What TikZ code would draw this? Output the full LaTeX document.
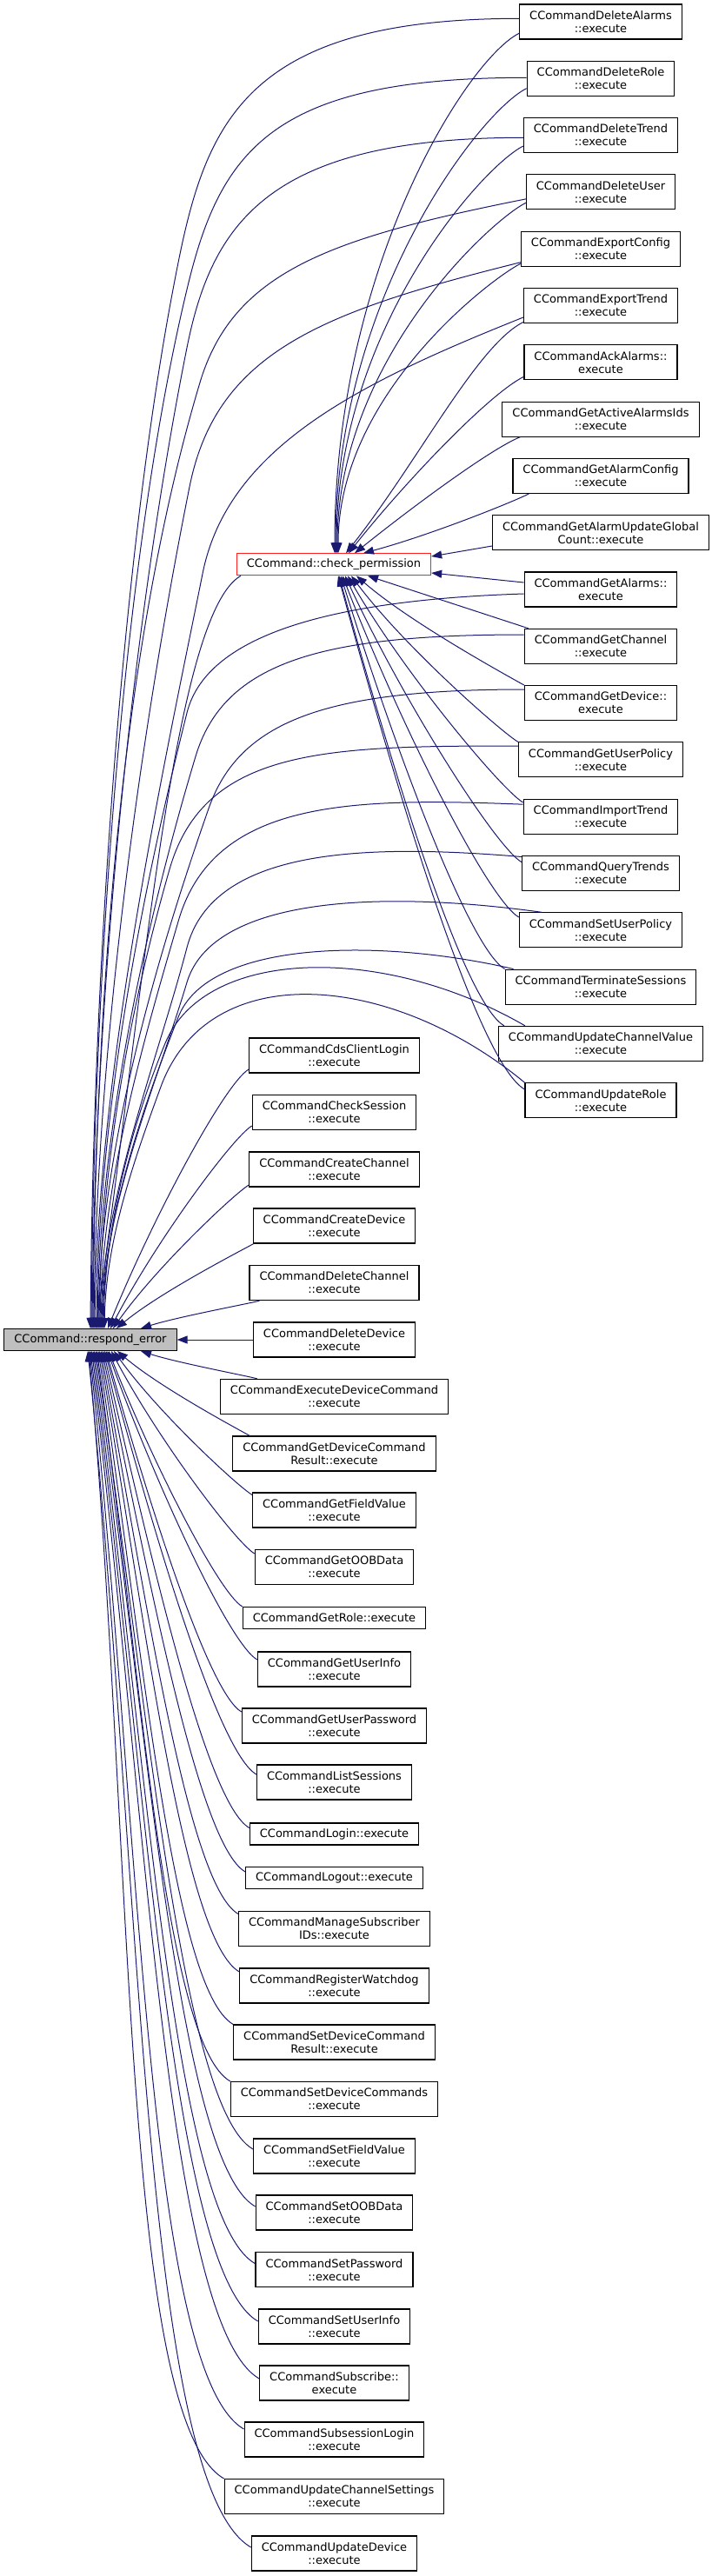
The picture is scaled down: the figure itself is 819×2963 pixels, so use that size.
\documentclass[tikz,border=0pt]{standalone}
\usepackage{fontspec}
\setmainfont{DejaVu Sans}
\usetikzlibrary{arrows.meta,calc}
\definecolor{edgeblue}{HTML}{191970}
\definecolor{rootfill}{HTML}{BFBFBF}
\definecolor{cpred}{HTML}{FF2020}
\newcommand\cedge[6]{%
  \draw[e] let \p1=(#1), \p2=(#2) in
    (\p1) .. controls ({\x1+#3*(\x2-\x1)},{\y1+#4*(\y2-\y1)})
    and ({\x2-#5*abs(\y2-\y1)},{\y2-#6*(\y2-\y1)}) .. (\p2);}
\newcommand\medge[2]{\cedge{#1}{#2}{0.33}{0.44}{0.09}{0.052}}
\begin{document}
\begin{tikzpicture}[x=1pt,y=-1pt,
  fn/.style={draw=black, line width=1.1pt, fill=white, inner xsep=11.5pt, inner ysep=0pt,
    font=\fontsize{13}{15}\selectfont, align=center, minimum height=40pt},
  fn1/.style={fn, minimum height=25pt},
  e/.style={draw=edgeblue, line width=1pt, {Triangle[length=12pt,width=9pt]}-}]
\useasboundingbox (0,0) rectangle (819,2963);

% root and intermediate
\node[fn1, fill=rootfill] (re) at (104,1541) {CCommand::respond\_error};
\node[fn1, draw=cpred] (cp) at (384,649.3) {CCommand::check\_permission};

% right column
\node[fn] (R1) at (691,25) {CCommandDeleteAlarms\\::execute};
\node[fn] (R2) at (691,90.3) {CCommandDeleteRole\\::execute};
\node[fn] (R3) at (691,155.6) {CCommandDeleteTrend\\::execute};
\node[fn] (R4) at (691,220.9) {CCommandDeleteUser\\::execute};
\node[fn] (R5) at (691,286.2) {CCommandExportConfig\\::execute};
\node[fn] (R6) at (691,351.5) {CCommandExportTrend\\::execute};
\node[fn] (R7) at (691,416.8) {CCommandAckAlarms::\\execute};
\node[fn] (R8) at (691,482.1) {CCommandGetActiveAlarmsIds\\::execute};
\node[fn] (R9) at (691,547.4) {CCommandGetAlarmConfig\\::execute};
\node[fn] (R10) at (691,612.7) {CCommandGetAlarmUpdateGlobal\\Count::execute};
\node[fn] (R11) at (691,678) {CCommandGetAlarms::\\execute};
\node[fn] (R12) at (691,743.3) {CCommandGetChannel\\::execute};
\node[fn] (R13) at (691,808.6) {CCommandGetDevice::\\execute};
\node[fn] (R14) at (691,873.9) {CCommandGetUserPolicy\\::execute};
\node[fn] (R15) at (691,939.2) {CCommandImportTrend\\::execute};
\node[fn] (R16) at (691,1004.5) {CCommandQueryTrends\\::execute};
\node[fn] (R17) at (691,1069.8) {CCommandSetUserPolicy\\::execute};
\node[fn] (R18) at (691,1135.1) {CCommandTerminateSessions\\::execute};
\node[fn] (R19) at (691,1200.4) {CCommandUpdateChannelValue\\::execute};
\node[fn] (R20) at (691,1265.7) {CCommandUpdateRole\\::execute};

% middle column
\node[fn] (M1) at (384.5,1214) {CCommandCdsClientLogin\\::execute};
\node[fn] (M2) at (384.5,1279.5) {CCommandCheckSession\\::execute};
\node[fn] (M3) at (384.5,1345) {CCommandCreateChannel\\::execute};
\node[fn] (M4) at (384.5,1410) {CCommandCreateDevice\\::execute};
\node[fn] (M5) at (384.5,1475.5) {CCommandDeleteChannel\\::execute};
\node[fn] (M6) at (384.5,1541) {CCommandDeleteDevice\\::execute};
\node[fn] (M7) at (384.5,1606.5) {CCommandExecuteDeviceCommand\\::execute};
\node[fn] (M8) at (384.5,1672) {CCommandGetDeviceCommand\\Result::execute};
\node[fn] (M9) at (384.5,1737) {CCommandGetFieldValue\\::execute};
\node[fn] (M10) at (384.5,1802.5) {CCommandGetOOBData\\::execute};
\node[fn1] (M11) at (384.5,1861) {CCommandGetRole::execute};
\node[fn] (M12) at (384.5,1920) {CCommandGetUserInfo\\::execute};
\node[fn] (M13) at (384.5,1985) {CCommandGetUserPassword\\::execute};
\node[fn] (M14) at (384.5,2050) {CCommandListSessions\\::execute};
\node[fn1] (M15) at (384.5,2109.5) {CCommandLogin::execute};
\node[fn1] (M16) at (384.5,2160) {CCommandLogout::execute};
\node[fn] (M17) at (384.5,2218.5) {CCommandManageSubscriber\\IDs::execute};
\node[fn] (M18) at (384.5,2284) {CCommandRegisterWatchdog\\::execute};
\node[fn] (M19) at (384.5,2349) {CCommandSetDeviceCommand\\Result::execute};
\node[fn] (M20) at (384.5,2414.5) {CCommandSetDeviceCommands\\::execute};
\node[fn] (M21) at (384.5,2480) {CCommandSetFieldValue\\::execute};
\node[fn] (M22) at (384.5,2545) {CCommandSetOOBData\\::execute};
\node[fn] (M23) at (384.5,2610.7) {CCommandSetPassword\\::execute};
\node[fn] (M24) at (384.5,2676) {CCommandSetUserInfo\\::execute};
\node[fn] (M25) at (384.5,2741) {CCommandSubscribe::\\execute};
\node[fn] (M26) at (384.5,2806) {CCommandSubsessionLogin\\::execute};
\node[fn] (M27) at (384.5,2871.5) {CCommandUpdateChannelSettings\\::execute};
\node[fn] (M28) at (384.5,2937) {CCommandUpdateDevice\\::execute};

% ---- right nodes -> check_permission
\cedge{[xshift=1pt]cp.north}{[yshift=-13.3pt]R1.west}{0}{0.55}{0.1}{0.05}
\cedge{[xshift=2pt]cp.north}{[yshift=-11.4pt]R2.west}{0}{0.55}{0.1}{0.05}
\cedge{[xshift=3pt]cp.north}{[yshift=-12.4pt]R3.west}{0}{0.55}{0.1}{0.05}
\cedge{[xshift=4pt]cp.north}{[yshift=-12.4pt]R4.west}{0}{0.55}{0.1}{0.05}
\cedge{[xshift=5pt]cp.north}{[yshift=-17pt]R5.west}{0}{0.55}{0.1}{0.05}
\cedge{[xshift=14pt]cp.north}{[yshift=-19pt]R6.west}{0.41}{0.4}{0.2}{0.1}
\cedge{[xshift=17pt]cp.north}{[yshift=-16.5pt]R7.west}{0.32}{0.4}{0.2}{0.1}
\cedge{[xshift=24pt]cp.north}{[xshift=21pt]R8.south west}{0.35}{0.4}{0.25}{0.1}
\cedge{[xshift=34pt]cp.north}{[xshift=19pt]R9.south west}{0.4}{0.3}{0.3}{0.15}
\draw[e] ([yshift=9.3pt]cp.east) -- ([yshift=-15.3pt]R10.west);
\draw[e] ([yshift=-9.7pt]cp.east) -- ([yshift=8pt]R11.west);
\draw[e] ([xshift=39pt]cp.south) -- ([xshift=5pt]R12.north west);
\medge{[xshift=26pt]cp.south}{R13.north west}
\medge{[xshift=20pt]cp.south}{R14.north west}
\medge{[xshift=16pt]cp.south}{[yshift=16.2pt]R15.west}
\medge{[xshift=13pt]cp.south}{[yshift=12.8pt]R16.west}
\medge{[xshift=10pt]cp.south}{[yshift=14.8pt]R17.west}
\medge{[xshift=8pt]cp.south}{R18.north west}
\medge{[xshift=6pt]cp.south}{[xshift=7pt]R19.north west}
\medge{[xshift=5pt]cp.south}{[yshift=12.7pt]R20.west}

% ---- right nodes -> respond_error
\draw[e] ([xshift=0pt]re.north) .. controls +(3,-420) and +(-57,300) .. (199,333) .. controls +(34,-180) and +(-330,0) .. ([yshift=3.7pt]R1.west);
\draw[e] ([xshift=1pt]re.north) .. controls +(3,-420) and +(-72,300) .. (215,333) .. controls +(38,-160) and +(-293,0) .. ([yshift=1pt]R2.west);
\draw[e] ([xshift=2pt]re.north) .. controls +(3,-395) and +(-60,300) .. (215,400) .. controls +(29,-145) and +(-291,0) .. ([yshift=-2.7pt]R3.west);
\draw[e] ([xshift=3pt]re.north) .. controls +(3,-380) and +(-90,300) .. (230,440) .. controls +(38,-127) and +(-226,45) .. ([yshift=-8pt]R4.west);
\draw[e] ([xshift=4pt]re.north) .. controls +(3,-340) and +(-50,250) .. (218,560) .. controls +(31,-155) and +(-229,57) .. ([yshift=-15.5pt]R5.west);
\draw[e] ([xshift=5pt]re.north) .. controls +(3,-300) and +(-40,200) .. (233,660) .. controls +(29,-147) and +(-185,74) .. ([yshift=-13.5pt]R6.west);
\medge{[xshift=6pt]re.north}{[xshift=5pt]cp.south west}
\draw[e] ([xshift=7pt]re.north) .. controls +(2,-250) and +(-50,200) .. (215,820) .. controls +(20,-80) and +(-250,8) .. ([yshift=-5pt]R11.west);
\draw[e] ([xshift=8pt]re.north) .. controls +(2,-230) and +(-54,180) .. (225,870) .. controls +(33,-110) and +(-230,0) .. ([yshift=13.3pt]R12.west);
\draw[e] ([xshift=9pt]re.north) .. controls +(2,-210) and +(-56,160) .. (240,930) .. controls +(35,-100) and +(-230,0) .. ([yshift=15.6pt]R13.west);
\draw[e] ([xshift=10pt]re.north) .. controls +(2,-185) and +(-46,160) .. (195,1000) .. controls +(40,-140) and +(-220,0) .. ([yshift=15.9pt]R14.west);
\draw[e] ([xshift=11pt]re.north) .. controls +(2,-165) and +(-41,140) .. (205,1060) .. controls +(40,-140) and +(-200,-8) .. ([yshift=14pt]R15.west);
\draw[e] ([xshift=12pt]re.north) .. controls +(2,-150) and +(-34,130) .. (215,1090) .. controls +(30,-115) and +(-180,-15) .. ([yshift=19pt]R16.west);
\draw[e] ([xshift=13pt]re.north) .. controls +(2,-140) and +(-36,120) .. (215,1130) .. controls +(30,-100) and +(-180,-25) .. ([xshift=26pt]R17.north west);
\draw[e] ([xshift=14pt]re.north) .. controls +(2,-125) and +(-43,110) .. (205,1170) .. controls +(35,-90) and +(-150,-35) .. ([xshift=10pt]R18.north west);
\draw[e] ([xshift=15pt]re.north) .. controls +(2,-115) and +(-41,100) .. (190,1200) .. controls +(45,-110) and +(-164,-95) .. ([xshift=31pt]R19.north west);
\draw[e] ([xshift=16pt]re.north) .. controls +(2,-100) and +(-33,90) .. (185,1250) .. controls +(55,-150) and +(-154,-127) .. (R20.north west);

% ---- middle nodes -> respond_error
\medge{[xshift=20pt]re.north}{[yshift=-16pt]M1.west}
\medge{[xshift=23pt]re.north}{[yshift=-15.5pt]M2.west}
\medge{[xshift=26pt]re.north}{[yshift=-18pt]M3.west}
\medge{[xshift=30pt]re.north}{[xshift=1pt]M4.south west}
\medge{[xshift=58pt]re.north}{[xshift=12pt]M5.south west}
\draw[e] (re.east) -- (M6.west);
\medge{[xshift=58pt]re.south}{[xshift=43pt]M7.north west}
\medge{[xshift=31pt]re.south}{[xshift=20pt]M8.north west}
\medge{[xshift=27pt]re.south}{[yshift=-3pt]M9.north west}
\medge{[xshift=24pt]re.south}{[yshift=-5pt]M10.north west}
\medge{[xshift=21pt]re.south}{M11.north west}
\medge{[xshift=19.5pt]re.south}{[yshift=11pt]M12.west}
\medge{[xshift=18pt]re.south}{[yshift=16pt]M13.west}
\medge{[xshift=16.5pt]re.south}{[yshift=9pt]M14.west}
\medge{[xshift=15pt]re.south}{[yshift=7pt]M15.west}
\medge{[xshift=13.5pt]re.south}{[yshift=7pt]M16.west}
\medge{[xshift=12pt]re.south}{[yshift=17pt]M17.west}
\medge{[xshift=10.5pt]re.south}{[yshift=16pt]M18.west}
\medge{[xshift=9pt]re.south}{M19.north west}
\medge{[xshift=7.5pt]re.south}{M20.north west}
\medge{[xshift=6pt]re.south}{[yshift=8pt]M21.west}
\medge{[xshift=4.5pt]re.south}{[yshift=7pt]M22.west}
\medge{[xshift=3pt]re.south}{[yshift=7pt]M23.west}
\medge{[xshift=1.5pt]re.south}{[yshift=6pt]M24.west}
\medge{[xshift=0pt]re.south}{[yshift=5pt]M25.west}
\medge{[xshift=-1pt]re.south}{[yshift=12pt]M26.west}
\medge{[xshift=-2pt]re.south}{M27.north west}
\medge{[xshift=-3pt]re.south}{[yshift=7pt]M28.west}
\end{tikzpicture}
\end{document}
